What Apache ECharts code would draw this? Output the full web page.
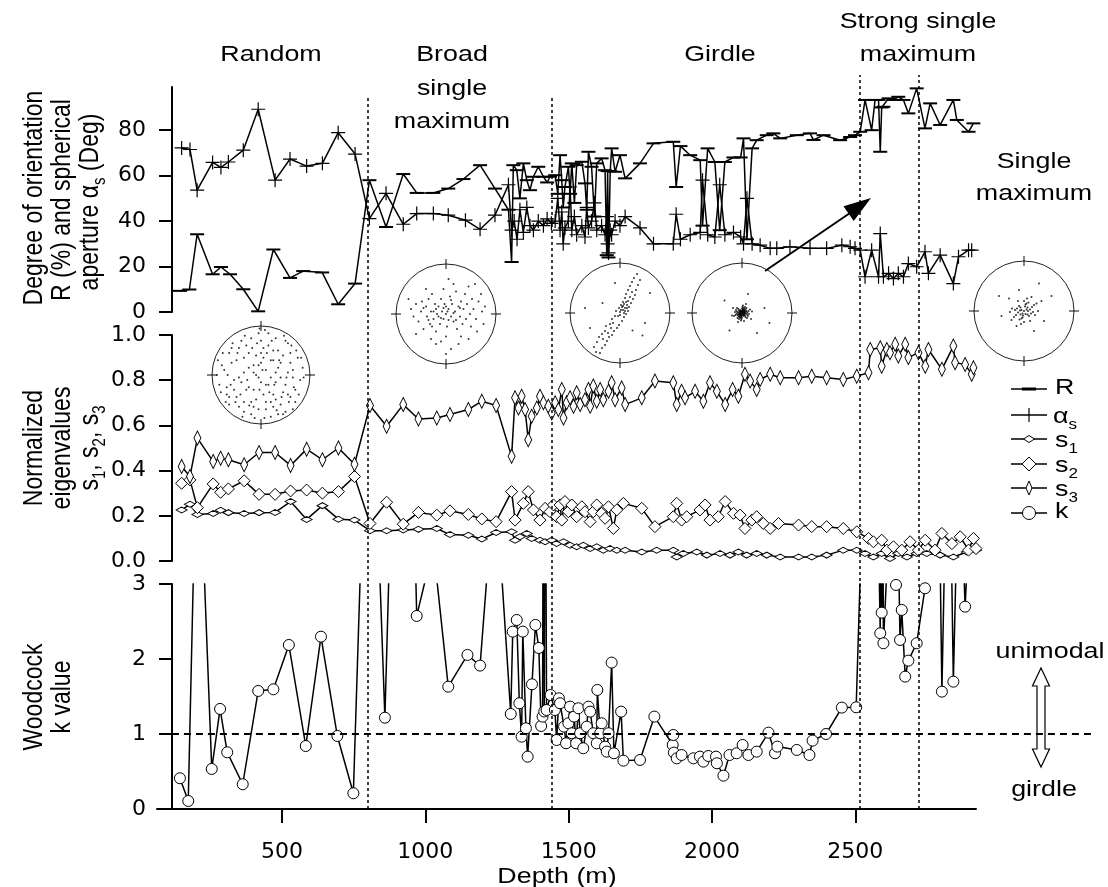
<!DOCTYPE html>
<html><head><meta charset="utf-8">
<script src="https://cdn.jsdelivr.net/npm/echarts@6/dist/echarts.min.js"></script>
<style>html,body{margin:0;padding:0;background:#fff}#c{width:1108px;height:887px}</style>
</head><body><div id="c"></div>
<script>
// ---------- axis extents / ticks ----------
const DEPTH_MIN = 64, DEPTH_MAX = 2921;
const X_TICKS = [500, 1000, 1500, 2000, 2500];
const TOP_TICKS = [0, 20, 40, 60, 80];
const REGION_BOUNDS = [800, 1440, 2514, 2723];

// ---------- series data: [depth (m), value] ----------
const R_DATA = [[144,9.3],[177,9.9],[204,34.2],[258,16.6],[287,19.8],[319,16.6],[365,10],[417,0.3],[470,27.5],[528,15],[574,18],[640,17.4],[696,3.4],[755,12.5],[805,58],[863,37.4],[923,60.7],[970,52.4],[1028,52.4],[1080,54.3],[1133,58.5],[1191,64.6],[1243,54.3],[1290,45],[1301,22],[1307,64.6],[1319,62.4],[1330,50],[1342,65.4],[1354,58],[1365,53.6],[1377,59.5],[1394,63.9],[1412,59.5],[1425,57],[1435,59.5],[1453,60.2],[1462,52],[1470,69],[1476,58],[1481,46],[1487,55],[1499,63.9],[1505,52],[1511,65.4],[1520,48],[1528,64.6],[1546,66.1],[1557,56.6],[1563,45],[1569,70.5],[1580,63.9],[1590,42],[1598,65.4],[1615,67.6],[1627,62.4],[1633,25],[1636,62],[1639,24],[1645,62],[1650,72],[1662,61.7],[1679,69],[1697,58.8],[1749,65.4],[1796,74.2],[1865,74.9],[1875,55],[1890,73],[1924,69],[1959,66.8],[1967,38],[1985,72],[2010,66],[2027,36],[2045,66],[2075,68],[2100,68],[2110,76.4],[2122,32],[2140,72],[2156,75.6],[2191,77.8],[2214,78.6],[2238,76.4],[2296,77.8],[2342,78.6],[2354,75.7],[2389,77.8],[2447,75.6],[2482,77],[2499,77.8],[2517,79.3],[2534,93.3],[2557,80],[2569,93.3],[2581,93.3],[2587,70.5],[2592,90],[2598,90.3],[2616,94],[2633,93.3],[2650,94.7],[2668,93.3],[2685,87.4],[2714,98.4],[2743,80.8],[2761,91.8],[2796,82.3],[2842,93.3],[2854,84.5],[2895,79.3],[2912,83]];
const ALPHA_DATA = [[150,72.2],[179,71.5],[204,53.6],[258,65.8],[287,63.6],[313,66],[365,71.2],[417,89.2],[476,58],[528,67.3],[586,64.2],[641,65.4],[696,78.9],[755,69.5],[805,41.1],[863,52.2],[923,38.6],[970,43.3],[1028,43.3],[1080,42.6],[1140,40.4],[1191,36.4],[1243,42.6],[1290,56],[1301,36],[1310,40],[1320,32],[1330,45],[1342,35],[1354,46],[1365,38],[1377,36],[1394,40],[1412,38],[1425,41],[1440,39],[1453,40],[1462,50],[1470,36],[1476,44],[1481,30],[1487,37],[1499,40],[1505,55],[1511,36],[1520,42],[1528,34],[1546,38],[1557,33],[1563,46],[1569,37],[1580,40],[1590,48],[1598,36],[1615,38],[1627,34],[1633,42],[1636,30],[1639,26],[1645,36],[1650,34],[1662,40],[1679,38],[1697,42],[1749,37],[1796,30],[1865,30],[1875,43],[1890,32],[1924,34],[1959,35],[1967,58],[1985,34],[2010,33],[2027,56],[2045,34],[2075,35],[2100,33],[2110,30],[2122,50],[2140,30],[2168,29.4],[2203,28],[2226,28],[2272,28.7],[2342,28],[2400,28],[2453,29.4],[2482,28.7],[2499,28],[2517,27.2],[2534,15.5],[2557,27.2],[2581,15.5],[2587,34.5],[2598,15.5],[2616,17],[2633,14.7],[2650,17],[2668,15.5],[2685,21.3],[2714,19.9],[2743,26.5],[2755,17],[2796,25],[2842,12.5],[2860,24.3],[2895,27.2],[2906,27.2]];
const S1_DATA = [[150,0.226],[179,0.251],[205,0.206],[260,0.21],[286,0.225],[313,0.214],[368,0.21],[420,0.214],[476,0.215],[530,0.263],[586,0.184],[641,0.245],[697,0.185],[753,0.181],[807,0.134],[865,0.134],[923,0.137],[976,0.14],[1040,0.144],[1086,0.117],[1150,0.114],[1197,0.097],[1247,0.126],[1301,0.129],[1313,0.092],[1330,0.107],[1354,0.122],[1371,0.1],[1400,0.092],[1418,0.085],[1441,0.092],[1458,0.077],[1482,0.085],[1505,0.07],[1528,0.063],[1551,0.07],[1575,0.055],[1598,0.063],[1621,0.048],[1644,0.055],[1668,0.048],[1697,0.048],[1755,0.04],[1807,0.048],[1865,0.048],[1877,0.018],[1900,0.033],[1947,0.04],[1982,0.026],[2028,0.033],[2063,0.026],[2092,0.04],[2121,0.026],[2156,0.033],[2191,0.026],[2238,0.018],[2302,0.018],[2348,0.018],[2400,0.026],[2458,0.048],[2505,0.048],[2534,0.033],[2563,0.018],[2592,0.033],[2621,0.011],[2650,0.033],[2680,0.018],[2714,0.033],[2749,0.033],[2796,0.026],[2842,0.018],[2889,0.04],[2921,0.048]];
const S2_DATA = [[150,0.344],[179,0.359],[205,0.236],[260,0.341],[286,0.304],[313,0.319],[368,0.355],[420,0.295],[476,0.295],[530,0.31],[586,0.314],[641,0.3],[697,0.307],[753,0.374],[807,0.166],[865,0.26],[923,0.163],[976,0.215],[1040,0.203],[1086,0.222],[1150,0.206],[1197,0.186],[1247,0.174],[1301,0.307],[1313,0.181],[1342,0.255],[1359,0.307],[1377,0.226],[1400,0.181],[1418,0.233],[1435,0.218],[1447,0.248],[1458,0.196],[1470,0.248],[1476,0.181],[1487,0.263],[1499,0.218],[1511,0.248],[1528,0.196],[1546,0.24],[1557,0.218],[1575,0.174],[1586,0.218],[1598,0.248],[1615,0.211],[1627,0.189],[1639,0.24],[1656,0.144],[1668,0.226],[1691,0.255],[1755,0.233],[1801,0.152],[1865,0.196],[1877,0.255],[1894,0.181],[1912,0.196],[1958,0.226],[1976,0.248],[1993,0.181],[2022,0.196],[2046,0.263],[2075,0.211],[2098,0.203],[2115,0.144],[2139,0.181],[2156,0.196],[2179,0.166],[2203,0.144],[2232,0.166],[2302,0.159],[2348,0.152],[2400,0.152],[2458,0.144],[2505,0.129],[2546,0.1],[2563,0.085],[2592,0.092],[2610,0.048],[2633,0.063],[2662,0.048],[2691,0.085],[2720,0.048],[2744,0.092],[2778,0.048],[2802,0.122],[2837,0.077],[2866,0.107],[2895,0.048],[2912,0.1],[2921,0.055]];
const S3_DATA = [[150,0.418],[179,0.374],[205,0.544],[260,0.44],[286,0.455],[313,0.448],[368,0.426],[420,0.48],[476,0.48],[530,0.423],[586,0.495],[641,0.448],[697,0.5],[753,0.428],[807,0.688],[865,0.596],[923,0.692],[976,0.628],[1040,0.633],[1086,0.648],[1150,0.67],[1197,0.707],[1247,0.688],[1301,0.463],[1313,0.722],[1325,0.677],[1336,0.729],[1348,0.67],[1359,0.537],[1371,0.64],[1389,0.677],[1400,0.729],[1412,0.7],[1429,0.685],[1441,0.655],[1453,0.7],[1464,0.67],[1476,0.759],[1482,0.633],[1493,0.7],[1505,0.722],[1517,0.685],[1528,0.744],[1540,0.692],[1557,0.714],[1569,0.759],[1575,0.685],[1586,0.774],[1598,0.707],[1610,0.759],[1621,0.714],[1639,0.751],[1650,0.789],[1662,0.714],[1685,0.766],[1697,0.692],[1755,0.722],[1801,0.796],[1865,0.789],[1877,0.692],[1894,0.751],[1906,0.722],[1941,0.751],[1970,0.707],[1993,0.789],[2017,0.751],[2046,0.692],[2072,0.759],[2092,0.729],[2115,0.826],[2133,0.796],[2156,0.759],[2168,0.803],[2203,0.826],[2238,0.811],[2302,0.811],[2348,0.818],[2400,0.811],[2458,0.803],[2505,0.818],[2546,0.833],[2552,0.936],[2587,0.944],[2592,0.862],[2610,0.936],[2621,0.922],[2639,0.959],[2650,0.907],[2674,0.959],[2685,0.9],[2720,0.922],[2744,0.862],[2755,0.936],[2802,0.848],[2842,0.951],[2848,0.877],[2883,0.87],[2906,0.826],[2912,0.855]];
const K_DATA = [[144,0.41],[173,0.107],[205,5.5],[255,0.534],[284,1.334],[309,0.756],[363,0.33],[417,1.574],[470,1.596],[524,2.187],[583,0.84],[636,2.298],[693,0.974],[749,0.21],[805,7],[859,1.218],[923,10],[970,2.574],[1028,3.5],[1080,1.631],[1147,2.054],[1191,1.912],[1243,4.5],[1298,1.267],[1305,2.365],[1319,2.52],[1328,1.41],[1336,0.965],[1340,2.365],[1351,1.076],[1357,0.698],[1372,1.663],[1384,2.454],[1396,2.147],[1404,1.107],[1409,1.232],[1412,6],[1415,1.3],[1418,6],[1423,1.32],[1437,1.52],[1452,1.32],[1458,0.92],[1466,1.476],[1470,1.41],[1484,1.098],[1491,0.876],[1499,1.143],[1505,1.365],[1511,1.01],[1519,1.232],[1526,0.876],[1534,1.343],[1540,1.01],[1551,0.81],[1563,1.098],[1569,1.365],[1575,1.298],[1586,1.01],[1598,0.876],[1600,1.587],[1610,1.01],[1615,1.143],[1627,0.832],[1633,0.765],[1639,1.01],[1650,1.952],[1658,0.743],[1683,1.298],[1691,0.645],[1749,0.654],[1799,1.232],[1863,0.854],[1865,0.987],[1867,0.752],[1877,0.676],[1894,0.72],[1935,0.676],[1958,0.698],[1970,0.632],[1987,0.707],[2014,0.698],[2017,0.61],[2040,0.445],[2061,0.72],[2086,0.743],[2107,0.854],[2127,0.72],[2156,0.765],[2197,1.018],[2220,0.743],[2228,0.832],[2296,0.787],[2340,0.72],[2351,0.912],[2398,1.0],[2453,1.352],[2503,1.356],[2540,6],[2575,5],[2587,2.343],[2589,6],[2592,2.618],[2595,5],[2598,2.21],[2620,4],[2642,2.987],[2648,4],[2656,2.254],[2662,2.654],[2674,1.765],[2685,1.978],[2714,2.21],[2743,2.943],[2760,4],[2790,5],[2802,1.565],[2825,6],[2842,1.698],[2862,5],[2883,2.698],[2900,4]];

// ---------- stereonet dots (x, y pairs, x100, y up) ----------
const NET_RANDOM = [-80,20,-70,-40,-60,55,-55,-10,-50,30,-45,-65,-40,70,-35,5,-30,-30,-25,45,-20,-80,-15,20,-10,-50,-5,85,0,-15,5,35,10,-70,15,60,20,-5,25,-40,30,75,35,15,40,-60,45,40,50,-20,55,65,60,-45,65,10,70,-30,75,35,80,-10,-85,-20,-75,10,-65,-60,-60,25,-40,-15,-30,60,-20,-55,-10,40,0,70,10,10,20,-85,30,-15,40,25,50,-75,60,45,70,-55,-50,-45,-35,-75,-15,-30,5,-40,25,30,45,-35,-25,15,-5,-5,15,-20,35,50,55,5,-65,45,-45,55,15,85,-20,75,35,-80,65,-70,85,15,-90,0,-70,-25,0,45,20,30,-35,35,10,-55,30,-50,50,70,-5,20,5,55,-10,0,40,-5,-55,-30,25,-65,-15,-65,60,25,-3,95,8,92,
  -88,30,-82,-35,-78,45,-72,-55,-68,0,-62,-20,-58,65,-52,-55,-48,45,-42,-40,-38,-85,-33,80,-28,-10,-24,-62,-18,55,-13,-88,-8,65,-3,-30,3,10,7,-88,12,45,17,-35,22,70,27,-20,32,-72,37,30,42,-45,47,80,52,-5,57,-55,62,60,67,-25,72,50,77,-40,82,35,87,-5,-45,-5,-25,-25,0,25,20,-55,45,-80,-65,-45,10,-20,30,5,-15,5,55,-40,-35,-55,65,-5,-5,-70,25,50];
const NET_BROAD = [-70,10,-65,-5,-60,20,-55,-15,-50,5,-48,25,-45,-30,-40,15,-38,-5,-35,30,-32,-20,-30,5,-28,40,-25,-10,-22,20,-20,-35,-18,0,-15,15,-12,-20,-10,30,-8,5,-5,-10,-3,20,0,0,2,-25,5,10,8,35,10,-5,12,20,15,-15,18,5,20,45,22,-30,25,15,28,-5,30,25,33,-20,35,10,38,40,40,-10,42,20,45,55,48,0,50,-25,52,30,55,10,58,60,60,-10,65,25,70,40,72,5,75,-20,-20,-60,-10,-55,0,-45,10,-70,-5,50,15,60,-40,50,-60,-40,30,-45,45,-50,62,-35,-75,30,78,15,5,70,-30,-50,25,-60,0,-80,
  -25,5,-15,-5,-5,12,5,-12,15,2,-35,-12,-20,10,0,15,10,28,20,-12,-45,12,-28,-25,-10,-8,3,5,28,12];
const NET_GIRDLE = [-48,-78,-40,-80,-52,-68,-36,-70,-46,-58,-30,-64,-42,-48,-26,-56,-36,-42,-22,-48,-30,-36,-16,-44,-28,-26,-12,-36,-20,-22,-6,-30,-16,-12,-2,-24,-10,-6,4,-16,-8,4,8,-8,-2,10,12,-2,2,16,16,4,6,22,18,12,10,30,22,20,12,38,26,28,16,46,30,36,20,54,32,46,24,62,36,56,28,70,40,66,34,78,-18,-30,-4,-6,0,2,6,6,10,10,4,12,14,16,8,18,12,22,16,24,2,6,6,14,10,4,-24,-40,-14,-20,20,32,24,42,-34,-52,14,10,8,0,0,-4,
  -60,-30,50,-20,-35,20,25,-35,60,40,-10,60,45,-45,-70,10];
const NET_STRONG = [0,0,3,2,-3,1,2,-3,-2,-2,5,0,-5,-1,1,5,-1,-5,4,4,-4,4,4,-4,-4,-4,7,2,-7,-2,2,7,-2,-7,6,-5,-6,5,8,-1,-8,1,0,9,0,-9,9,4,-9,-4,5,8,-5,-8,10,-3,-10,3,3,10,-3,-10,7,7,-7,-7,7,-8,-7,8,11,1,-11,-1,1,12,-1,-12,12,-6,-12,6,6,12,-6,-12,13,4,-13,-4,9,10,-9,-10,10,-10,-10,10,14,-2,-14,2,2,15,-2,-15,16,7,-16,-6,4,-16,-18,10,18,-12,20,3,-20,-5,8,18,-8,-18,1,1,-1,2,2,-1,-2,3,3,-2,30,-40,-35,25,45,10,-25,-35,12,38,55,-20,
  1,3,-3,-1,3,-1,-1,-3,4,1,-4,-1,1,-4,-1,4,6,3,-6,-3,3,-6,-3,6,5,5,-5,-5,5,-2,-5,2,2,6,-2,-6];
const NET_SINGLE = [0,0,5,3,-5,2,3,-6,-3,-5,8,0,-8,1,2,9,-2,-9,7,7,-7,7,7,-7,-7,-7,12,3,-12,-3,3,13,-3,-13,10,-10,-10,10,14,-5,-14,5,5,15,-5,-15,16,8,-16,-8,9,17,-9,-17,18,-2,-18,2,0,20,0,-22,20,12,-20,-12,12,-20,-12,20,22,-8,-24,5,6,25,-6,-26,25,15,-25,-18,28,0,-28,-2,15,28,-15,-30,35,20,-30,25,40,-20,-45,-10,20,-40,-10,42,55,30,-50,30,30,55];

// ---------- layout ----------
const GL = 157, GW = 819;            // main grid left / width
const OVW = 943;                     // overlay width (to x=1100)
const OV_XMAX = DEPTH_MIN + (DEPTH_MAX - DEPTH_MIN) * OVW / GW;
const K_TOP = 584, K_H = 225, OV_TOP = 75;
const OV_YMAX = 3 * (K_TOP + K_H - OV_TOP) / K_H;   // overlay y in k-units
const OV_Y95 = 3 * (K_TOP + K_H - 95) / K_H;

const FONT = '"Liberation Sans", Arial, sans-serif';
const TICKFONT = '"DejaVu Sans", sans-serif';
const PLUS = 'path://M-0.6,-7H0.6V-0.6H7V0.6H0.6V7H-0.6V0.6H-7V-0.6H-0.6Z';

function toPolar(a) {
  const out = [];
  for (let i = 0; i < a.length; i += 2) {
    const x = a[i] / 100, y = a[i + 1] / 100;
    let ang = Math.atan2(y, x) * 180 / Math.PI;
    if (ang < 0) ang += 360;
    out.push([Math.hypot(x, y), ang]);
  }
  return out;
}

const axisLineStyle = { color: '#000', width: 2 };
const yLab = { fontFamily: TICKFONT, fontSize: 22, color: '#000', margin: 26 };

const NETS = [
  { c: [261, 375], r: 49, pts: NET_RANDOM },
  { c: [446, 314], r: 50, pts: NET_BROAD },
  { c: [620, 313], r: 50, pts: NET_GIRDLE },
  { c: [742, 313], r: 50, pts: NET_STRONG },
  { c: [1024, 311], r: 50, pts: NET_SINGLE }
];

const lineBase = (name, xi, data, symbol, size, fill) => ({
  type: 'line', name, xAxisIndex: xi, yAxisIndex: xi, data,
  symbol, symbolSize: size, showAllSymbol: true,
  lineStyle: { color: '#000', width: 1.5 },
  itemStyle: { color: fill, borderColor: '#000', borderWidth: fill === '#000' ? 0 : 1 },
  emphasis: { disabled: true }, z: 3
});

const series = [
  lineBase('R', 0, R_DATA, 'rect', [14, 2], '#000'),
  lineBase('αs', 0, ALPHA_DATA, PLUS, 14, '#000'),
  lineBase('s1', 1, S1_DATA, 'diamond', [11, 6], '#fff'),
  lineBase('s2', 1, S2_DATA, 'diamond', [12, 12], '#fff'),
  lineBase('s3', 1, S3_DATA, 'diamond', [7, 14], '#fff'),
  lineBase('k', 2, K_DATA, 'circle', 11, '#fff'),
  {
    type: 'line', xAxisIndex: 3, yAxisIndex: 3, data: [[DEPTH_MIN, 0]], symbol: 'none',
    lineStyle: { opacity: 0 }, silent: true,
    markLine: {
      silent: true, symbol: ['none', 'none'], label: { show: false }, animation: false,
      data: [
        ...REGION_BOUNDS.map((d, i) => [
          { coord: [d, 0], lineStyle: { color: '#000', width: 1.5, type: [3, 3] } },
          { coord: [d, i < 2 ? OV_Y95 : OV_YMAX] }
        ]),
        [ { coord: [116, 1], lineStyle: { color: '#000', width: 2, type: [7, 5] } }, { coord: [3330, 1] } ]
      ]
    }
  }
];

NETS.forEach((n, i) => {
  series.push({
    type: 'scatter', coordinateSystem: 'polar', polarIndex: i, data: toPolar(n.pts),
    symbol: 'circle', symbolSize: 2, itemStyle: { color: '#000' }, silent: true
  });
  series.push({
    type: 'scatter', coordinateSystem: 'polar', polarIndex: i, symbol: 'rect', silent: true,
    itemStyle: { color: '#000' },
    data: [{ value: [1, 0], symbolSize: [10, 1.2] }, { value: [1, 90], symbolSize: [1.2, 10] },
           { value: [1, 180], symbolSize: [10, 1.2] }, { value: [1, 270], symbolSize: [1.2, 10] }]
  });
});

// ---------- graphic annotations ----------
const SX = 1.22;
function T(x, y, text, align, extra) {
  return Object.assign({
    type: 'text', x, y, scaleX: SX, silent: true,
    style: { text, font: '22px ' + FONT, fill: '#000', align: align || 'center', textAlign: align || 'center', verticalAlign: 'middle', textVerticalAlign: 'middle' }
  }, extra || {});
}
const RICH = {
  n: { fontSize: 22, fontFamily: FONT, lineHeight: 24, verticalAlign: 'top' },
  sub: { fontSize: 14, fontFamily: FONT, lineHeight: 14, padding: [12, 0, 0, 0], verticalAlign: 'top' }
};
const RICH_ROT = {
  n: { fontSize: 23, fontFamily: FONT, lineHeight: 25, verticalAlign: 'top' },
  sub: { fontSize: 15, fontFamily: FONT, lineHeight: 15, padding: [12, 0, 0, 0], verticalAlign: 'top' }
};
function TR(x, y, text, align) {
  return {
    type: 'text', x, y, scaleX: SX, silent: true,
    style: { text, rich: RICH, fill: '#000', align: align || 'left', textAlign: align || 'left', verticalAlign: 'middle', textVerticalAlign: 'middle', font: '22px ' + FONT }
  };
}
function ROT(x, y, text) {
  return {
    type: 'text', x, y, rotation: Math.PI / 2, scaleY: 1.2, silent: true,
    style: { text, rich: RICH_ROT, fill: '#000', align: 'center', textAlign: 'center', verticalAlign: 'middle', textVerticalAlign: 'middle', font: '23px ' + FONT }
  };
}

const graphic = [
  T(271, 55, 'Random'),
  T(452, 55, 'Broad'), T(452, 89, 'single'), T(452, 122, 'maximum'),
  T(720, 55, 'Girdle'),
  T(918, 22, 'Strong single'), T(918, 55, 'maximum'),
  T(1034, 162, 'Single'), T(1034, 194, 'maximum'),
  T(1050, 652, 'unimodal'), T(1044, 790, 'girdle'),
  T(557, 877, 'Depth (m)'),
  ROT(36, 198, '{n|Degree of orientation}'),
  ROT(64, 200, '{n|R (%) and spherical}'),
  ROT(92, 202, '{n|aperture α}{sub|s}{n| (Deg)}'),
  ROT(36, 448, '{n|Normalized}'),
  ROT(64, 448, '{n|eigenvalues}'),
  ROT(92, 448, '{n|s}{sub|1}{n|, s}{sub|2}{n|, s}{sub|3}'),
  ROT(36, 697, '{n|Woodcock}'),
  ROT(64, 697, '{n|k value}'),
  // arrow pointing to strong single maximum
  { type: 'line', silent: true, shape: { x1: 765, y1: 271, x2: 850, y2: 213 }, style: { stroke: '#000', lineWidth: 2 } },
  { type: 'polygon', silent: true, shape: { points: [[871, 198], [853.7, 221.1], [843.5, 206.3]] }, style: { fill: '#000' } },
  // double hollow arrow unimodal / girdle
  { type: 'polygon', silent: true, z: -1, shape: { points: [[1041, 668], [1049.5, 686], [1045, 686], [1045, 749], [1049.5, 749], [1041, 767], [1032.5, 749], [1037, 749], [1037, 686], [1032.5, 686]] }, style: { fill: 'none', stroke: '#000', lineWidth: 1.2 } }
];

// legend (drawn)
const LEG = [389, 415, 439, 464, 488, 513];
LEG.forEach(y => graphic.push({ type: 'line', silent: true, shape: { x1: 1011, y1: y, x2: 1047, y2: y }, style: { stroke: '#000', lineWidth: 1.5 } }));
graphic.push(
  { type: 'rect', silent: true, shape: { x: 1022, y: LEG[0] - 1.5, width: 14, height: 3 }, style: { fill: '#000' } },
  { type: 'line', silent: true, shape: { x1: 1029, y1: LEG[1] - 7, x2: 1029, y2: LEG[1] + 7 }, style: { stroke: '#000', lineWidth: 1.2 } },
  { type: 'polygon', silent: true, shape: { points: [[1023.5, LEG[2]], [1029, LEG[2] - 3.5], [1034.5, LEG[2]], [1029, LEG[2] + 3.5]] }, style: { fill: '#fff', stroke: '#000', lineWidth: 1 } },
  { type: 'polygon', silent: true, shape: { points: [[1022, LEG[3]], [1029, LEG[3] - 7], [1036, LEG[3]], [1029, LEG[3] + 7]] }, style: { fill: '#fff', stroke: '#000', lineWidth: 1 } },
  { type: 'polygon', silent: true, shape: { points: [[1026, LEG[4]], [1029, LEG[4] - 7], [1032, LEG[4]], [1029, LEG[4] + 7]] }, style: { fill: '#fff', stroke: '#000', lineWidth: 1 } },
  { type: 'circle', silent: true, shape: { cx: 1029, cy: LEG[5], r: 6.5 }, style: { fill: '#fff', stroke: '#000', lineWidth: 1 } },
  TR(1055, LEG[0], '{n|R}'),
  TR(1053, LEG[1] + 3, '{n|α}{sub|s}'),
  TR(1055, LEG[2] + 3, '{n|s}{sub|1}'),
  TR(1055, LEG[3] + 3, '{n|s}{sub|2}'),
  TR(1055, LEG[4] + 3, '{n|s}{sub|3}'),
  TR(1055, LEG[5], '{n|k}')
);

const option = {
  animation: false,
  backgroundColor: '#fff',
  textStyle: { fontFamily: FONT, color: '#000' },
  grid: [
    { left: GL, width: GW, top: 87, height: 225 },
    { left: GL, width: GW, top: 335, height: 226 },
    { left: GL, width: GW, top: K_TOP, height: K_H },
    { left: GL, width: OVW, top: OV_TOP, height: K_TOP + K_H - OV_TOP }
  ],
  xAxis: [
    { gridIndex: 0, type: 'value', min: DEPTH_MIN, max: DEPTH_MAX, show: false },
    { gridIndex: 1, type: 'value', min: DEPTH_MIN, max: DEPTH_MAX, show: false },
    { gridIndex: 2, type: 'value', min: DEPTH_MIN, max: DEPTH_MAX,
      axisLine: { show: true, lineStyle: axisLineStyle },
      axisTick: { show: true, customValues: X_TICKS, length: 14, lineStyle: axisLineStyle },
      axisLabel: { customValues: X_TICKS, formatter: v => String(v), fontFamily: TICKFONT, fontSize: 22, color: '#000', margin: 32 },
      splitLine: { show: false } },
    { gridIndex: 3, type: 'value', min: DEPTH_MIN, max: OV_XMAX, show: false }
  ],
  yAxis: [
    { gridIndex: 0, type: 'value', min: 0, max: 99, offset: -15,
      axisLine: { show: true, lineStyle: axisLineStyle },
      axisTick: { show: true, customValues: TOP_TICKS, length: 13, lineStyle: axisLineStyle },
      axisLabel: Object.assign({ customValues: TOP_TICKS }, yLab), splitLine: { show: false } },
    { gridIndex: 1, type: 'value', min: 0, max: 1, interval: 0.2, offset: -15,
      axisLine: { show: true, lineStyle: axisLineStyle },
      axisTick: { show: true, length: 13, lineStyle: axisLineStyle },
      axisLabel: Object.assign({ formatter: v => v.toFixed(1) }, yLab), splitLine: { show: false } },
    { gridIndex: 2, type: 'value', min: 0, max: 3, interval: 1, offset: -15,
      axisLine: { show: true, lineStyle: axisLineStyle },
      axisTick: { show: true, length: 13, lineStyle: axisLineStyle },
      axisLabel: yLab, splitLine: { show: false } },
    { gridIndex: 3, type: 'value', min: 0, max: OV_YMAX, show: false }
  ],
  polar: NETS.map(n => ({ center: n.c, radius: n.r })),
  angleAxis: NETS.map((n, i) => ({
    polarIndex: i, type: 'value', min: 0, max: 360, startAngle: 0, clockwise: false,
    axisLine: { show: true, lineStyle: { color: '#222', width: 1 } },
    axisTick: { show: false }, axisLabel: { show: false }, splitLine: { show: false }
  })),
  radiusAxis: NETS.map((n, i) => ({
    polarIndex: i, type: 'value', min: 0, max: 1,
    axisLine: { show: false }, axisTick: { show: false }, axisLabel: { show: false }, splitLine: { show: false }
  })),
  series,
  graphic
};

const chart = echarts.init(document.getElementById('c'), null, { renderer: 'canvas' });
chart.setOption(option);
</script>
</body></html>
